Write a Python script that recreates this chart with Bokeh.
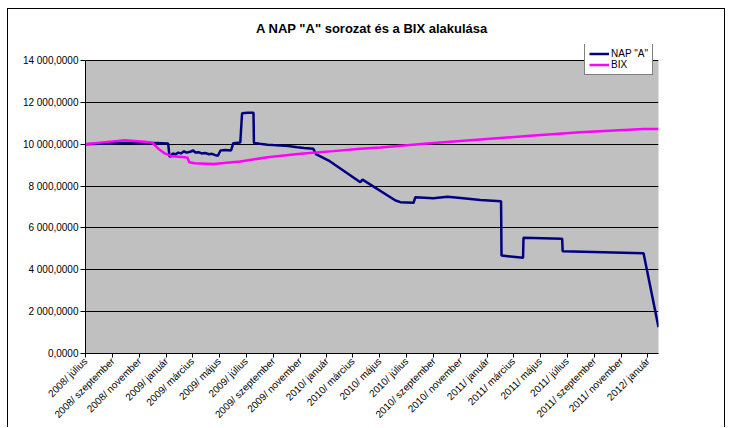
import math
import pandas as pd
from bokeh.plotting import figure
from bokeh.models import FixedTicker, Range1d, Legend, LegendItem, BoxAnnotation
from bokeh.embed import file_html
from bokeh.resources import INLINE

# ---------------- data ----------------
nap_dates = ["2008-07-01", "2008-08-15", "2008-10-01", "2008-11-15", "2008-12-10", "2009-01-05",
             "2009-01-08", "2009-01-12", "2009-01-15", "2009-01-22", "2009-01-28", "2009-02-03",
             "2009-02-10", "2009-02-16", "2009-02-24", "2009-03-03", "2009-03-08", "2009-03-15",
             "2009-03-22", "2009-03-30", "2009-04-08", "2009-04-15", "2009-04-22", "2009-04-28",
             "2009-05-04", "2009-05-15", "2009-05-28", "2009-06-02", "2009-06-18", "2009-06-22",
             "2009-07-05", "2009-07-18", "2009-07-19", "2009-08-01", "2009-08-19", "2009-09-01",
             "2009-09-17", "2009-10-05", "2009-10-26", "2009-11-10", "2009-12-01", "2009-12-07",
             "2010-01-05", "2010-03-18", "2010-03-23", "2010-06-06", "2010-06-17", "2010-07-17",
             "2010-07-21", "2010-08-31", "2010-10-02", "2010-11-07", "2010-12-16", "2011-02-01",
             "2011-02-02", "2011-03-23", "2011-03-24", "2011-06-20", "2011-06-21", "2011-12-22",
             "2012-01-25"]
nap_values = [10000, 10040, 10070, 10050, 10060, 10030,
              9410, 9420, 9560, 9520, 9600, 9560,
              9660, 9600, 9640, 9700, 9600, 9620,
              9560, 9580, 9520, 9540, 9480, 9450,
              9700, 9720, 9700, 10050, 10080, 11480,
              11500, 11500, 10060, 10020, 9980, 9960,
              9940, 9920, 9860, 9820, 9780, 9530,
              9220, 8185, 8310, 7310, 7230, 7200,
              7470, 7420, 7485, 7420, 7340, 7280,
              4680, 4570, 5530, 5480, 4890, 4790,
              1257]

bix_dates = ["2008-07-01", "2008-08-15", "2008-09-28", "2008-11-12", "2008-11-30", "2008-12-14",
             "2008-12-28", "2009-01-15", "2009-02-11", "2009-02-18", "2009-02-22", "2009-03-06",
             "2009-04-18", "2009-06-18", "2009-08-19", "2009-11-02", "2010-01-16", "2010-03-18",
             "2010-05-03", "2010-08-24", "2010-12-16", "2011-04-09", "2011-07-31", "2011-12-22",
             "2012-01-25"]
bix_values = [10000, 10100, 10190, 10120, 10070, 9780,
              9560, 9420, 9380, 9350, 9140, 9090,
              9060, 9170, 9380, 9540, 9670, 9780,
              9840, 10050, 10230, 10400, 10570, 10730,
              10730]

y_ticks = [0, 2000, 4000, 6000, 8000, 10000, 12000, 14000]
y_tick_labels = ["0,0000", "2 000,0000", "4 000,0000", "6 000,0000", "8 000,0000",
                 "10 000,0000", "12 000,0000", "14 000,0000"]

x_tick_dates = ["2008-07-01", "2008-09-01", "2008-11-01", "2009-01-01", "2009-03-01", "2009-05-01",
                "2009-07-01", "2009-09-01", "2009-11-01", "2010-01-01", "2010-03-01", "2010-05-01",
                "2010-07-01", "2010-09-01", "2010-11-01", "2011-01-01", "2011-03-01", "2011-05-01",
                "2011-07-01", "2011-09-01", "2011-11-01", "2012-01-01"]
x_tick_labels = ["2008/ július", "2008/ szeptember", "2008/ november", "2009/ január",
                 "2009/ március", "2009/ május", "2009/ július", "2009/ szeptember",
                 "2009/ november", "2010/ január", "2010/ március", "2010/ május",
                 "2010/ július", "2010/ szeptember", "2010/ november", "2011/ január",
                 "2011/ március", "2011/ május", "2011/ július", "2011/ szeptember",
                 "2011/ november", "2012/ január"]

x_start = "2008-07-01"
x_end = "2012-01-25"
y_min, y_max = 0, 14000
y_view_top = 14765   # headroom above the plot area so the legend can sit over its top edge

# ---------------- plot ----------------
FONT = "Liberation Sans"


def ms(d):
    return float(pd.Timestamp(d).value // 10**6)


p = figure(width=718, height=419, output_backend="svg", toolbar_location=None,
           x_axis_type="datetime",
           x_range=Range1d(ms(x_start), ms(x_end)), y_range=Range1d(y_min, y_view_top),
           min_border_left=77, min_border_right=68, min_border_top=35, min_border_bottom=75,
           title='A NAP "A" sorozat és a BIX alakulása')
p.styles = {"margin-left": "7px", "margin-top": "8px",
            "border-left": "1px solid black", "border-top": "1px solid black",
            "border-right": "1px solid black"}

p.title.align = "center"
p.title.text_font = FONT
p.title.text_font_size = "13px"
p.title.text_font_style = "bold"
p.title.text_color = "black"
p.title.standoff = 18

p.background_fill_color = "white"
p.border_fill_color = "white"
p.outline_line_color = None

plot_area = BoxAnnotation(bottom=y_min, top=y_max, fill_color="#C0C0C0", fill_alpha=1.0,
                          line_color="#808080", line_width=1, level="image")
p.add_layout(plot_area)

p.xgrid.visible = False
p.ygrid.ticker = FixedTicker(ticks=y_ticks)
p.ygrid.grid_line_color = "black"
p.ygrid.grid_line_width = 1

# y axis
p.yaxis.ticker = FixedTicker(ticks=y_ticks)
p.yaxis.bounds = (y_min, y_max)
p.yaxis.major_label_overrides = {t: lab for t, lab in zip(y_ticks, y_tick_labels)}
p.yaxis.major_label_text_font = FONT
p.yaxis.major_label_text_font_size = "10px"
p.yaxis.major_label_text_color = "black"
p.yaxis.axis_line_color = "black"
p.yaxis.major_tick_line_color = "black"
p.yaxis.major_tick_out = 5
p.yaxis.major_tick_in = 0
p.yaxis.minor_tick_line_color = None
p.yaxis.major_label_standoff = 2

# x axis
x_ticks = [ms(d) for d in x_tick_dates]
p.xaxis.ticker = FixedTicker(ticks=x_ticks)
p.xaxis.major_label_overrides = {t: lab for t, lab in zip(x_ticks, x_tick_labels)}
p.xaxis.major_label_orientation = math.pi / 4
p.xaxis.major_label_text_font = FONT
p.xaxis.major_label_text_font_size = "10px"
p.xaxis.major_label_text_color = "black"
p.xaxis.axis_line_color = "black"
p.xaxis.major_tick_line_color = "black"
p.xaxis.major_tick_out = 4
p.xaxis.major_tick_in = 0
p.xaxis.minor_tick_line_color = None
p.xaxis.major_label_standoff = 2

nap_x = [ms(d) for d in nap_dates]
bix_x = [ms(d) for d in bix_dates]

r_nap = p.line(nap_x, nap_values, line_color="#000080", line_width=2.5)
r_bix = p.line(bix_x, bix_values, line_color="#FF00FF", line_width=2.5)

legend = Legend(items=[LegendItem(label='NAP "A"', renderers=[r_nap]),
                       LegendItem(label="BIX", renderers=[r_bix])],
                location=(499, 278))
legend.label_text_font = FONT
legend.label_text_font_size = "10px"
legend.label_text_color = "black"
legend.label_height = 11
legend.glyph_height = 11
legend.glyph_width = 20
legend.label_standoff = 2
legend.spacing = 0
legend.padding = 4
legend.margin = 0
legend.border_line_color = "black"
legend.border_line_width = 1
legend.background_fill_color = "white"
legend.background_fill_alpha = 1.0
p.add_layout(legend)

open("out.html", "w").write(file_html(p, INLINE))
